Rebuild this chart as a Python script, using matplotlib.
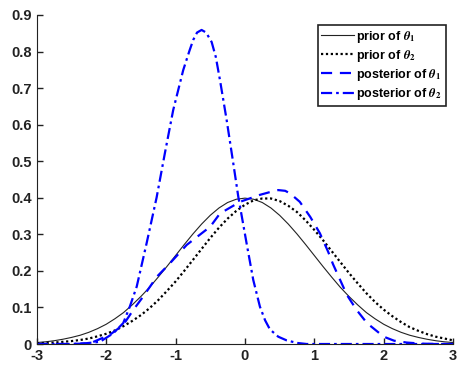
import matplotlib.pyplot as plt

plt.rcParams['font.family'] = ['Liberation Sans', 'DejaVu Sans']
plt.rcParams['font.weight'] = 'bold'
plt.rcParams['axes.unicode_minus'] = False
plt.rcParams['mathtext.fontset'] = 'stix'

# prior curves, every 0.125
x_prior = [i * 0.125 - 3 for i in range(49)]
prior1 = [0.004, 0.006, 0.009, 0.013, 0.018, 0.024, 0.032, 0.042, 0.054, 0.069, 0.086, 0.107, 0.130,
          0.155, 0.183, 0.212, 0.242, 0.272, 0.301, 0.328, 0.352, 0.372, 0.387, 0.396, 0.399,
          0.396, 0.387, 0.372, 0.352, 0.328, 0.301, 0.272, 0.242, 0.212, 0.183, 0.155, 0.130,
          0.107, 0.086, 0.069, 0.054, 0.042, 0.032, 0.024, 0.018, 0.013, 0.009, 0.006, 0.004]
prior2 = [0.002, 0.003, 0.004, 0.006, 0.008, 0.011, 0.015, 0.021, 0.028, 0.037, 0.049, 0.063, 0.079,
          0.098, 0.120, 0.145, 0.171, 0.200, 0.230, 0.260, 0.290, 0.318, 0.343, 0.364, 0.381,
          0.393, 0.398, 0.398, 0.391, 0.378, 0.361, 0.338, 0.312, 0.284, 0.254, 0.224, 0.194,
          0.166, 0.139, 0.115, 0.094, 0.076, 0.060, 0.046, 0.036, 0.027, 0.020, 0.015, 0.010]

# posterior of theta_1
x_post1 = [-3, -2.5, -2.23, -1.95, -1.755, -1.61, -1.47, -1.27, -1.08, -0.84, -0.5, -0.36, -0.07,
           0.216, 0.35, 0.48, 0.58, 0.65, 0.79, 0.94, 1.08, 1.2, 1.27, 1.47, 1.61, 1.76, 2.0, 2.15,
           2.33, 2.55, 2.8, 3]
post1 = [0, 0, 0.002, 0.025, 0.052, 0.093, 0.129, 0.184, 0.221, 0.271, 0.321, 0.357, 0.389,
         0.408, 0.415, 0.421, 0.419, 0.412, 0.389, 0.348, 0.303, 0.252, 0.218, 0.134, 0.093, 0.057,
         0.020, 0.009, 0.004, 0.001, 0, 0]

# posterior of theta_2
x_post2 = [-3, -2.5, -2.3, -2.09, -1.9, -1.755, -1.66, -1.56, -1.418, -1.274, -1.154, -1.034, -0.89,
           -0.8, -0.745, -0.69, -0.625, -0.56, -0.48, -0.42, -0.36, -0.264, -0.168, -0.096, 0.024,
           0.12, 0.216, 0.29, 0.36, 0.48, 0.6, 0.75, 0.89, 3]
post2 = [0, 0, 0.002, 0.006, 0.029, 0.057, 0.102, 0.157, 0.275, 0.400, 0.522, 0.640, 0.749,
         0.802, 0.832, 0.852, 0.859, 0.852, 0.826, 0.785, 0.722, 0.613, 0.494, 0.403, 0.275,
         0.175, 0.102, 0.065, 0.040, 0.020, 0.010, 0.003, 0, 0]

fig = plt.figure(figsize=(4.6, 3.65), dpi=100)
ax = fig.add_axes([0.080, 0.0575, 0.905, 0.9015])

ax.plot(x_prior, prior1, color='#222222', lw=0.8, label=r'prior of $\theta_1$')
ax.plot(x_prior, prior2, color='black', lw=1.6, linestyle=(0, (1, 1.2)), label=r'prior of $\theta_2$')
ax.plot(x_post1, post1, color='blue', lw=1.6, linestyle=(0, (5, 3.5)), label=r'posterior of $\theta_1$')
ax.plot(x_post2, post2, color='blue', lw=1.6, linestyle=(0, (5, 1.8, 1.2, 1.8)), label=r'posterior of $\theta_2$')

ax.set_xlim(-3, 3)
ax.set_ylim(0, 0.9)
ax.set_xticks(range(-3, 4))
ax.set_yticks([0, 0.1, 0.2, 0.3, 0.4, 0.5, 0.6, 0.7, 0.8, 0.9])
ax.set_yticklabels(['0', '0.1', '0.2', '0.3', '0.4', '0.5', '0.6', '0.7', '0.8', '0.9'])
ax.tick_params(direction='in', length=4, labelsize=10.5, colors='#222222', width=1)
ax.spines['top'].set_visible(False)
ax.spines['right'].set_visible(False)
ax.spines['left'].set_color('#222222')
ax.spines['bottom'].set_color('#222222')

leg = ax.legend(loc='upper right', bbox_to_anchor=(0.982, 0.97), fontsize=9, handlelength=2.6,
                handletextpad=0.2, labelspacing=0.25, borderpad=0.3, fancybox=False,
                framealpha=1, edgecolor='#222222', borderaxespad=0)
leg.get_frame().set_linewidth(1.2)

plt.savefig('out.png')
